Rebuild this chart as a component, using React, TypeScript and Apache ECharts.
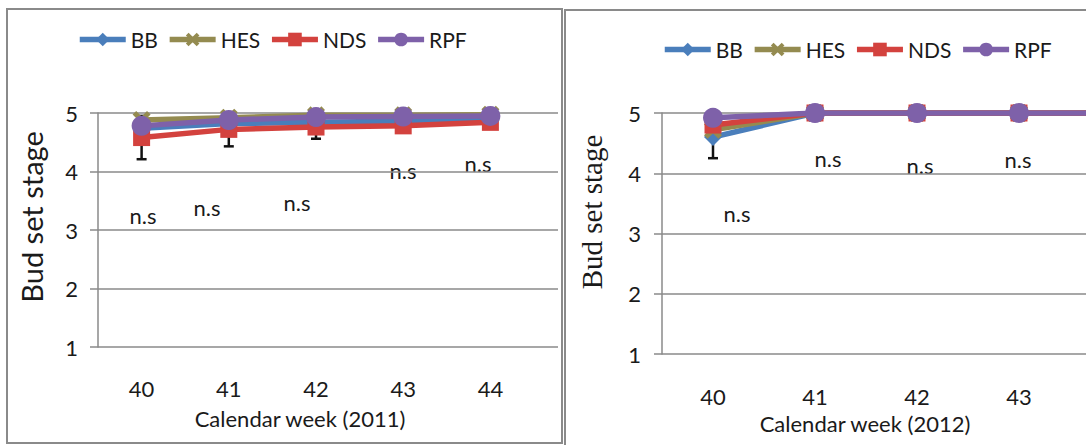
import React, { useEffect, useRef } from "react";
import * as echarts from "echarts";

// ---- data ----
const weeks2011 = ["40", "41", "42", "43", "44"];
const weeks2012 = ["40", "41", "42", "43", "44"];
const seriesNames = ["BB", "HES", "NDS", "RPF"];

const bb2011 = [4.74, 4.82, 4.84, 4.86, 4.9];
const hes2011 = [4.88, 4.92, 4.96, 4.96, 4.97];
const nds2011 = [4.58, 4.72, 4.76, 4.78, 4.84];
const rpf2011 = [4.78, 4.88, 4.93, 4.94, 4.95];
const ndsErrLow2011 = [4.21, 4.43, 4.56, 4.73, 4.79];
const ndsErrHigh2011 = [4.95, 5.0, 4.96, 4.83, 4.89];

const bb2012 = [4.6, 5, 5, 5, 5];
const hes2012 = [4.72, 5, 5, 5, 5];
const nds2012 = [4.8, 5, 5, 5, 5];
const rpf2012 = [4.92, 5, 5, 5, 5];
const bbErrLow2012 = [4.25, 5, 5, 5, 5];
const bbErrHigh2012 = [4.95, 5, 5, 5, 5];

const yMin = 1;
const yMax = 5;
const yStep = 1;

const colors = { BB: "#4a7ebb", HES: "#948b50", NDS: "#d3423e", RPF: "#7e61a9" };
const X_PATH =
  "path://M0,2 L2,0 L5,3 L8,0 L10,2 L7,5 L10,8 L8,10 L5,7 L2,10 L0,8 L3,5 Z";
const symbols: Record<string, [string, number]> = {
  BB: ["diamond", 18],
  HES: [X_PATH, 18],
  NDS: ["rect", 17],
  RPF: ["circle", 20],
};

const FONT = "Lato";
const TXT = "#1a1a1a";
const GREY = "#8a8a8a";

function lineSeries(name: string, data: number[], axis: number) {
  const [sym, size] = symbols[name];
  return {
    type: "line",
    name,
    data,
    xAxisIndex: axis,
    yAxisIndex: axis,
    symbol: sym,
    symbolSize: size,
    showAllSymbol: true,
    lineStyle: { width: 5.5, color: colors[name as keyof typeof colors] },
    itemStyle: { color: colors[name as keyof typeof colors] },
  };
}

function errSeries(low: number[], high: number[], axis: number) {
  return {
    type: "custom",
    xAxisIndex: axis,
    yAxisIndex: axis,
    data: low.map((l, i) => [i, l, high[i]]),
    z: 1,
    renderItem: (params: any, api: any) => {
      const lo = api.coord([api.value(0), api.value(1)]);
      const hi = api.coord([api.value(0), api.value(2)]);
      const w = 5;
      const st = { stroke: "#111", lineWidth: 2.5 };
      return {
        type: "group",
        children: [
          { type: "line", shape: { x1: lo[0], y1: lo[1], x2: hi[0], y2: hi[1] }, style: st },
          { type: "line", shape: { x1: lo[0] - w, y1: lo[1], x2: lo[0] + w, y2: lo[1] }, style: st },
          { type: "line", shape: { x1: hi[0] - w, y1: hi[1], x2: hi[0] + w, y2: hi[1] }, style: st },
        ],
      };
    },
  };
}

const labelStyle = { fontFamily: FONT, fontSize: 22, color: TXT };

function valueAxis(grid: number, margin: number) {
  return {
    gridIndex: grid,
    type: "value",
    min: yMin,
    max: yMax,
    interval: yStep,
    axisLine: { show: true, lineStyle: { color: GREY, width: 1.5 } },
    axisTick: { show: true, length: 8, lineStyle: { color: GREY, width: 1.5 } },
    axisLabel: { ...labelStyle, margin },
    splitLine: { show: true, lineStyle: { color: GREY, width: 1.5 } },
  };
}

function nsText(x: number, y: number) {
  return {
    type: "text",
    x,
    y,
    style: { text: "n.s", font: `22px ${FONT}`, fill: TXT, align: "center", verticalAlign: "middle" },
  };
}

export default function App() {
  const ref = useRef<HTMLDivElement>(null);
  useEffect(() => {
    if (!ref.current) return;
    const chart = echarts.init(ref.current, undefined, { renderer: "svg" });
    const legendBase = {
      data: seriesNames,
      orient: "horizontal",
      itemWidth: 46,
      itemHeight: 17,
      itemGap: 9,
      lineStyle: { width: 5.5 },
      textStyle: { fontFamily: FONT, fontSize: 21, color: TXT },
    };
    chart.setOption({
      animation: false,
      backgroundColor: "#ffffff",
      legend: [
        { ...legendBase, left: 72, top: 24 },
        { ...legendBase, left: 657, top: 34 },
      ],
      grid: [
        { left: 98, top: 113, width: 460, height: 234 },
        { left: 98, top: 113, width: 436, height: 234 },
        { left: 662, top: 113, width: 510, height: 241 },
      ],
      xAxis: [
        { gridIndex: 0, type: "category", data: weeks2011, show: false },
        {
          gridIndex: 1,
          type: "category",
          data: weeks2011,
          axisLine: { show: false },
          axisTick: { show: false },
          splitLine: { show: false },
          axisLabel: { ...labelStyle, margin: 30 },
        },
        {
          gridIndex: 2,
          type: "category",
          data: weeks2012,
          axisLine: { show: false },
          axisTick: { show: false },
          splitLine: { show: false },
          axisLabel: {
            ...labelStyle,
            margin: 31,
            interval: (i: number) => i < 4,
          },
        },
      ],
      yAxis: [
        valueAxis(0, 20),
        { gridIndex: 1, type: "value", min: yMin, max: yMax, interval: yStep, show: false },
        valueAxis(2, 21),
      ],
      series: [
        errSeries(ndsErrLow2011, ndsErrHigh2011, 1),
        lineSeries("BB", bb2011, 1),
        lineSeries("HES", hes2011, 1),
        lineSeries("NDS", nds2011, 1),
        lineSeries("RPF", rpf2011, 1),
        errSeries(bbErrLow2012, bbErrHigh2012, 2),
        lineSeries("BB", bb2012, 2),
        lineSeries("HES", hes2012, 2),
        lineSeries("NDS", nds2012, 2),
        lineSeries("RPF", rpf2012, 2),
      ],
      graphic: [
        {
          type: "rect",
          shape: { x: 7, y: 9, width: 555, height: 434 },
          style: { fill: "none", stroke: GREY, lineWidth: 2 },
          silent: true,
        },
        {
          type: "rect",
          shape: { x: 565, y: 10, width: 620, height: 440 },
          style: { fill: "none", stroke: GREY, lineWidth: 2 },
          silent: true,
        },
        {
          type: "text",
          x: 31,
          y: 217,
          rotation: Math.PI / 2,
          style: { text: "Bud set stage", font: `29px ${FONT}`, fill: TXT, align: "center", verticalAlign: "middle" },
        },
        {
          type: "text",
          x: 592,
          y: 212,
          rotation: Math.PI / 2,
          style: {
            text: "Bud set stage",
            font: `29px "Liberation Serif"`,
            fill: TXT,
            align: "center",
            verticalAlign: "middle",
          },
        },
        {
          type: "text",
          x: 300,
          y: 418,
          style: { text: "Calendar week (2011)", font: `22px ${FONT}`, fill: TXT, align: "center", verticalAlign: "middle" },
        },
        {
          type: "text",
          x: 865,
          y: 423,
          style: { text: "Calendar week (2012)", font: `22px ${FONT}`, fill: TXT, align: "center", verticalAlign: "middle" },
        },
        nsText(143, 215),
        nsText(207, 207),
        nsText(297, 202),
        nsText(403, 170),
        nsText(478, 163),
        nsText(737, 213),
        nsText(828, 158),
        nsText(920, 165),
        nsText(1018, 159),
      ],
    });
    return () => chart.dispose();
  }, []);
  return (
    <div style={{ position: "absolute", left: 0, top: 0, width: 1086, height: 445, overflow: "hidden" }}>
      <div ref={ref} style={{ width: 1172, height: 445 }} />
    </div>
  );
}
